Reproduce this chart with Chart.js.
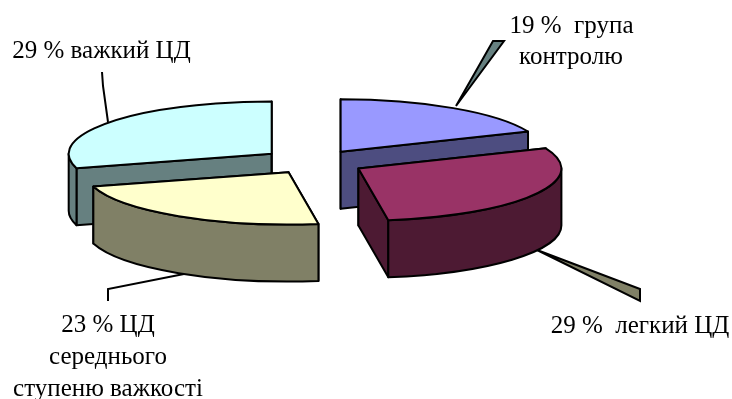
<!DOCTYPE html>
<html>
<head>
<meta charset="utf-8">
<style>
    html, body { margin: 0; padding: 0; background: #fff; }
    #wrap { width: 732px; height: 399px; }
</style>
<script src="https://cdn.jsdelivr.net/npm/chart.js@4/dist/chart.umd.min.js"></script>
</head>
<body>
<div id="wrap"><canvas id="chart" width="732" height="399"></canvas></div>
<script>
const categories = ['група контролю', 'легкий ЦД', 'ЦД середнього ступеню важкості', 'важкий ЦД'];
const percents = [18.7, 28.9, 22.9, 29.4];
const topColors = ['#9999ff', '#993366', '#ffffcc', '#ccffff'];
const sideColors = ['#4d4d80', '#4d1a33', '#808066', '#668080'];
const explodeBy = [48, 51, 47, 53];

// back slices first, the front ones paint over them
const DRAW_ORDER = [3, 0, 2, 1];
const SQUASH = 0.258;
const DEPTH = 57;
const LINE = 2;

// [text, centre x, baseline y]
const LABELS = [
    ['29 % важкий ЦД', 101.5, 58],
    ['19 %  група', 571.5, 33],
    ['контролю', 571, 64],
    ['29 %  легкий ЦД', 640, 333],
    ['23 % ЦД', 108, 332],
    ['середнього', 108, 364],
    ['ступеню важкості', 108, 396]
];

function drawLeaders(ctx) {
    ctx.lineWidth = LINE;
    ctx.strokeStyle = '#000';

    ctx.beginPath();
    ctx.moveTo(102, 72);
    ctx.lineTo(103, 86);
    ctx.lineTo(108, 122);
    ctx.stroke();

    ctx.beginPath();
    ctx.moveTo(108, 301);
    ctx.lineTo(108, 289);
    ctx.lineTo(184, 274);
    ctx.stroke();

    // the two right hand leaders come out as thin wedges in the original
    ctx.fillStyle = sideColors[3];
    ctx.beginPath();
    ctx.moveTo(456, 106);
    ctx.lineTo(493, 41);
    ctx.lineTo(504, 41);
    ctx.closePath();
    ctx.fill();
    ctx.stroke();

    ctx.fillStyle = sideColors[2];
    ctx.beginPath();
    ctx.moveTo(537, 250);
    ctx.lineTo(640, 289);
    ctx.lineTo(640, 301);
    ctx.closePath();
    ctx.fill();
    ctx.stroke();
}

function drawSlice(ctx, arc, side, explode) {
    const { x, y, startAngle, endAngle, outerRadius } = arc.getProps(['x', 'y', 'startAngle', 'endAngle', 'outerRadius'], true);
    const mid = (startAngle + endAngle) / 2;
    const rx = outerRadius;
    const ry = outerRadius * SQUASH;
    const cx = x + Math.cos(mid) * explode;
    const cy = y + Math.sin(mid) * explode * SQUASH;

    ctx.lineWidth = LINE;
    ctx.lineJoin = 'round';
    ctx.strokeStyle = arc.options.borderColor;

    // radial walls
    [startAngle, endAngle].forEach(a => {
        const ex = cx + Math.cos(a) * rx;
        const ey = cy + Math.sin(a) * ry;
        ctx.beginPath();
        ctx.moveTo(cx, cy);
        ctx.lineTo(ex, ey);
        ctx.lineTo(ex, ey + DEPTH);
        ctx.lineTo(cx, cy + DEPTH);
        ctx.closePath();
        ctx.fillStyle = side;
        ctx.fill();
        ctx.stroke();
    });

    // outer wall, only the part facing the viewer
    [[0, Math.PI], [2 * Math.PI, 3 * Math.PI]].forEach(([lo, hi]) => {
        const a0 = Math.max(startAngle, lo);
        const a1 = Math.min(endAngle, hi);
        if (a1 <= a0) return;
        ctx.beginPath();
        ctx.ellipse(cx, cy, rx, ry, 0, a0, a1);
        ctx.ellipse(cx, cy + DEPTH, rx, ry, 0, a1, a0, true);
        ctx.closePath();
        ctx.fillStyle = side;
        ctx.fill();
        ctx.stroke();
    });

    // top face
    ctx.beginPath();
    ctx.moveTo(cx, cy);
    ctx.ellipse(cx, cy, rx, ry, 0, startAngle, endAngle);
    ctx.closePath();
    ctx.fillStyle = arc.options.backgroundColor;
    ctx.fill();
    ctx.stroke();
}

const pie3d = {
    id: 'pie3d',
    beforeDatasetDraw(chart) {
        const ctx = chart.ctx;
        const arcs = chart.getDatasetMeta(0).data;
        ctx.save();
        drawLeaders(ctx);
        DRAW_ORDER.forEach(i => drawSlice(ctx, arcs[i], sideColors[i], explodeBy[i]));

        ctx.fillStyle = '#000';
        ctx.font = '25px "Liberation Serif"';
        ctx.textAlign = 'center';
        ctx.textBaseline = 'alphabetic';
        LABELS.forEach(([text, x, y]) => ctx.fillText(text, x, y));
        ctx.restore();
        return false; // the plugin paints the arcs itself
    }
};

new Chart(document.getElementById('chart'), {
    type: 'pie',
    data: {
        labels: categories,
        datasets: [{
            data: percents,
            backgroundColor: topColors,
            borderColor: '#000',
            borderWidth: 0
        }]
    },
    options: {
        responsive: false,
        animation: false,
        radius: 203,
        layout: { padding: { left: 0, top: 0, right: 104, bottom: 75 } },
        plugins: {
            legend: { display: false },
            tooltip: { enabled: false }
        }
    },
    plugins: [pie3d]
});
</script>
</body>
</html>
